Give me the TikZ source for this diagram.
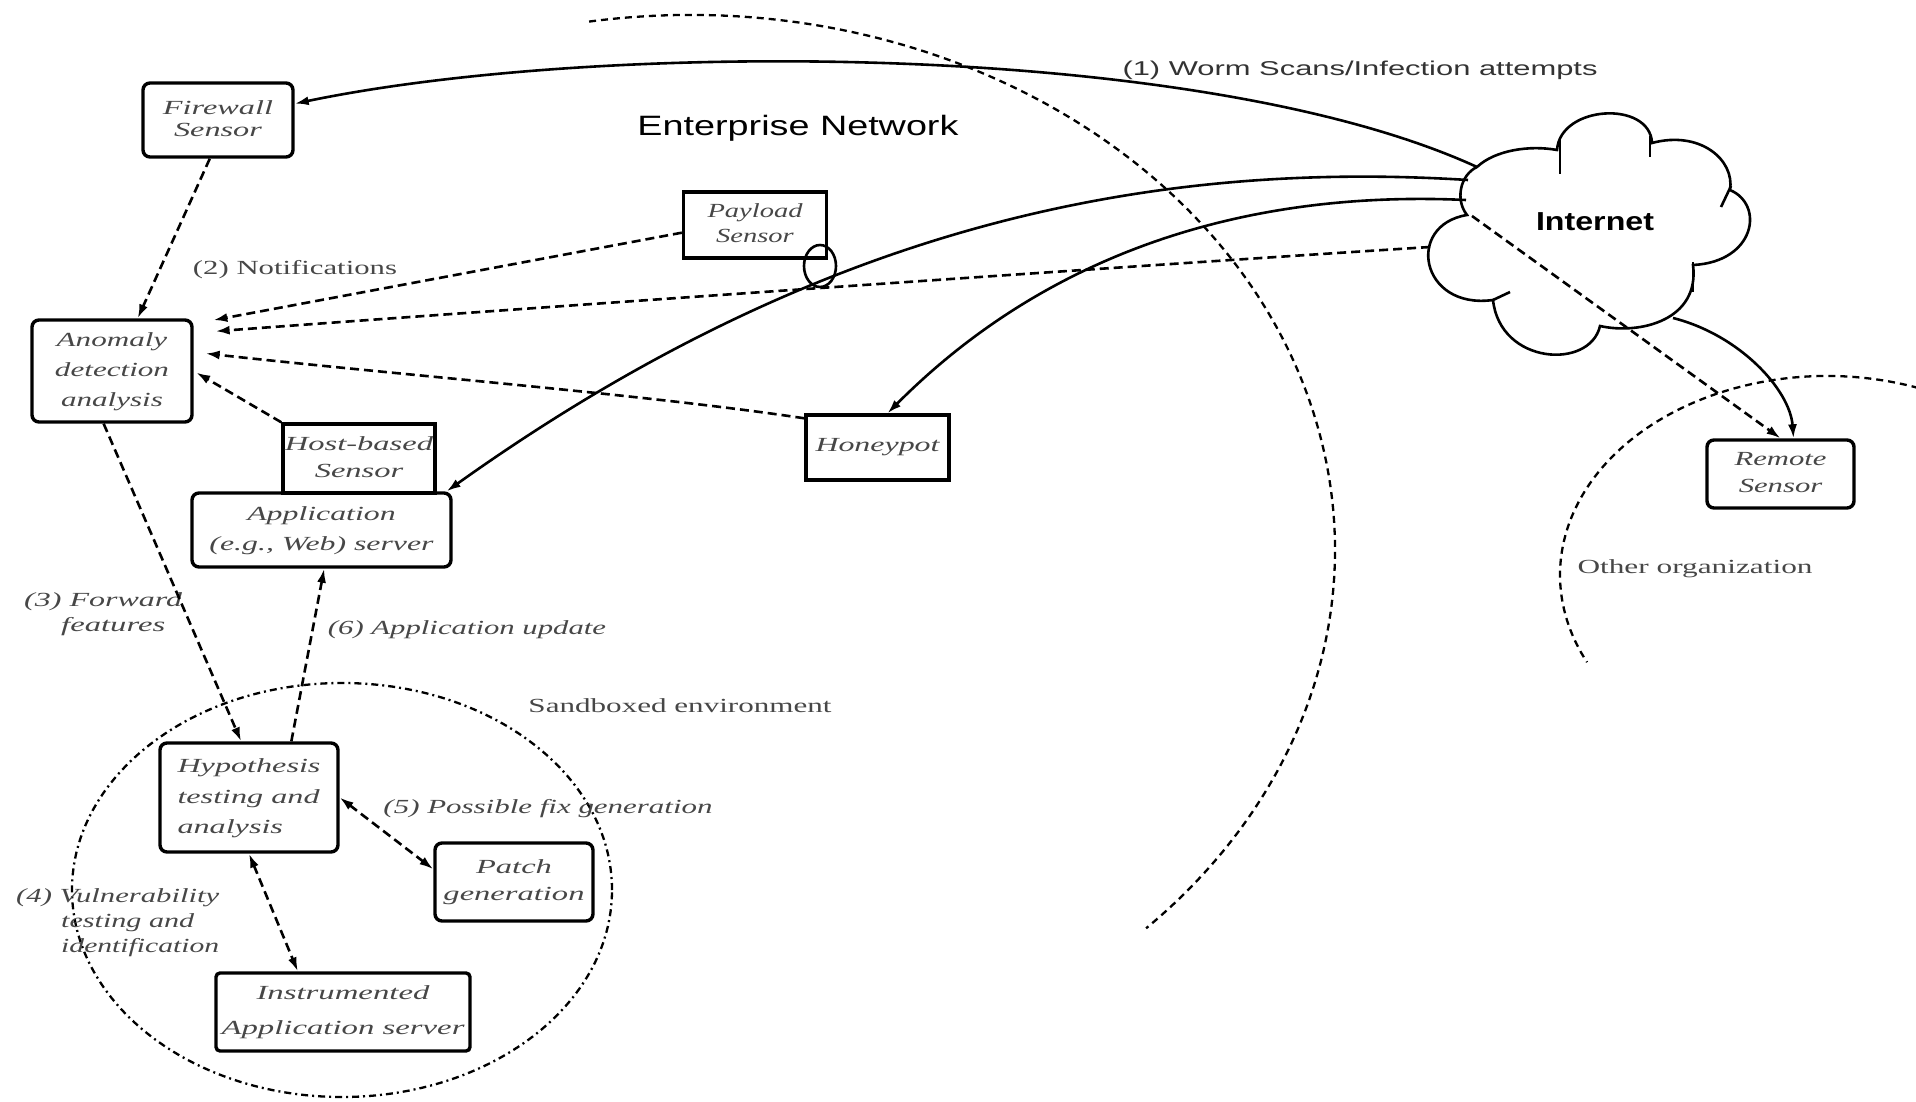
\documentclass[tikz,border=0pt]{standalone}
\usepackage{fontspec}
\setmainfont{Liberation Serif}
\setsansfont{Liberation Sans}
\usetikzlibrary{arrows.meta,calc}
% stretch a piece of text to a given width, keeping its height
\newcommand\fitw[2]{\resizebox{#1}{\height}{#2}}
\begin{document}
\begin{tikzpicture}[x=1pt,y=-1pt,
  box/.style={draw, line width=3.4pt, inner sep=0pt, align=center,
              font=\fontsize{20}{27}\selectfont\itshape, text=black!72},
  rbox/.style={box, rounded corners=7pt},
  lbl/.style={font=\fontsize{20}{25}\selectfont\itshape, text=black!72, inner sep=0pt},
  plainlbl/.style={font=\fontsize{20}{25}\selectfont, text=black!72, inner sep=0pt},
  tip/.tip={Latex[length=14pt,width=9pt]},
  link/.style={line width=2.6pt, -tip},
  dlink/.style={link, dash pattern=on 9pt off 5pt},
  bilink/.style={dlink, tip-tip},
  border/.style={line width=2.3pt, dash pattern=on 7pt off 5pt},
  sandbox/.style={line width=2.3pt, dash pattern=on 7pt off 4pt on 2pt off 4pt},
  cloudline/.style={line width=2.6pt},
]
\useasboundingbox (0,0) rectangle (1916,1102);
\fill[white] (0,0) rectangle (1916,1102);

% ---- region borders ----
\draw[border] ([shift={(-99:645 and 535)}]690,550)
  arc[start angle=-99, end angle=45, x radius=645, y radius=535];
\draw[border] ([shift={(-70:267 and 199)}]1827,575)
  arc[start angle=-70, end angle=-206, x radius=267, y radius=199];
\draw[sandbox] (342,890) ellipse [x radius=270pt, y radius=207pt];

% ---- Internet cloud ----
\draw[cloudline]
  (1477,167) .. controls (1495,150) and (1530,145) .. (1557,150)
  .. controls (1560,105) and (1650,100) .. (1652,143)
  .. controls (1700,130) and (1735,160) .. (1730,190)
  .. controls (1765,205) and (1755,262) .. (1693,265)
  .. controls (1700,320) and (1640,335) .. (1600,326)
  .. controls (1590,370) and (1500,365) .. (1493,300)
  .. controls (1420,310) and (1405,225) .. (1467,215)
  .. controls (1455,200) and (1460,175) .. (1477,167) -- cycle;
\draw[cloudline] (1560,138) -- (1560,174);
\draw[cloudline] (1650,136) -- (1650,157);
\draw[cloudline] (1731,186) -- (1721,207);
\draw[cloudline] (1693,262) -- (1693,292);
\draw[cloudline] (1493,300) -- (1510,292);
\node[font=\sffamily\bfseries\fontsize{26}{28}\selectfont, inner sep=0pt] (inet) at (1595,222) {\fitw{118pt}{Internet}};

\coordinate (c-fw)  at (1477,167);
\coordinate (c-app) at (1468,180);
\coordinate (c-hp)  at (1466,200);
\coordinate (c-an)  at (1430,247);
\coordinate (c-rs1) at (1472,216);
\coordinate (c-rs2) at (1673,318);

% ---- sensors and servers ----
\node[rbox, minimum width=150pt, minimum height=74pt] (fw) at (218,120)
  {\fitw{110pt}{\begin{tabular}{@{}c@{}}Firewall\\[-5pt]Sensor\end{tabular}}};
\node[rbox, minimum width=160pt, minimum height=102pt] (an) at (112,371)
  {\fitw{114pt}{\begin{tabular}{@{}c@{}}Anomaly\\[3pt]detection\\[3pt]analysis\end{tabular}}};
\node[box, minimum width=143pt, minimum height=66pt] (pl) at (755,225)
  {\fitw{95pt}{\begin{tabular}{@{}c@{}}Payload\\[-2pt]Sensor\end{tabular}}};
\node[box, minimum width=152pt, minimum height=69pt] (hb) at (359,458.5)
  {\fitw{148pt}{\begin{tabular}{@{}c@{}}Host-based\\Sensor\end{tabular}}};
\node[rbox, minimum width=259pt, minimum height=74pt] (app) at (321.5,530)
  {\fitw{224pt}{\begin{tabular}{@{}c@{}}Application\\[3pt](e.g., Web) server\end{tabular}}};
\node[box, minimum width=143pt, minimum height=65pt] (hp) at (877.5,447.5)
  {\fitw{124pt}{Honeypot}};
\node[rbox, minimum width=147pt, minimum height=68pt] (rs) at (1780.5,474)
  {\fitw{92pt}{\begin{tabular}{@{}c@{}}Remote\\Sensor\end{tabular}}};
\node[rbox, minimum width=178pt, minimum height=109pt] (hy) at (249,797.5)
  {\fitw{143pt}{\begin{tabular}{@{}l@{}}Hypothesis\\[4pt]testing and\\[3pt]analysis\end{tabular}}};
\node[rbox, minimum width=158pt, minimum height=78pt] (pg) at (514,882)
  {\fitw{141pt}{\begin{tabular}{@{}c@{}}Patch\\generation\end{tabular}}};
\node[rbox, rounded corners=4pt, minimum width=254pt, minimum height=78pt] (ia) at (343,1012)
  {\fitw{243pt}{\begin{tabular}{@{}c@{}}Instrumented\\[8pt]Application server\end{tabular}}};

% tap point of the payload sensor
\draw[cloudline] (820,266) ellipse [x radius=16pt, y radius=21pt];

% ---- labels ----
\node[font=\sffamily\fontsize{28}{30}\selectfont, inner sep=0pt] (title) at (798,128)
  {\fitw{321pt}{Enterprise Network}};
\node[font=\sffamily\fontsize{20}{22}\selectfont, text=black!80, inner sep=0pt] (l1) at (1360,70)
  {\fitw{475pt}{(1) Worm Scans/Infection attempts}};
\node[plainlbl] (l2) at (295,270) {\fitw{204pt}{(2) Notifications}};
\node[lbl, anchor=west] (l3) at (24,614)
  {\begin{tabular}{@{}l@{}}\fitw{158pt}{(3) Forward}\\\hspace*{37pt}\fitw{104pt}{features}\end{tabular}};
\node[lbl, anchor=west] (l4) at (16,922)
  {\begin{tabular}{@{}l@{}}\fitw{203pt}{(4) Vulnerability}\\\hspace*{45pt}\fitw{133pt}{testing and}\\\hspace*{45pt}\fitw{158pt}{identification}\end{tabular}};
\node[lbl] (l5) at (548,809) {\fitw{329pt}{(5) Possible fix generation}};
\node[lbl] (l6) at (467,630) {\fitw{278pt}{(6) Application update}};
\node[plainlbl] (sbl) at (680,706) {\fitw{303pt}{Sandboxed environment}};
\node[plainlbl] (org) at (1695,569) {\fitw{235pt}{Other organization}};

% ---- connectors ----
\draw[link] (c-fw) .. controls (1200,40) and (600,40) .. (fw.12);
\draw[link] (c-app) .. controls (1150,160) and (820,225) .. ([xshift=-6pt]app.north east);
\draw[link] (c-hp) .. controls (1250,190) and (1050,250) .. ([xshift=10pt]hp.north);
\draw[dlink, shorten >=22pt] (c-an) .. controls (1100,268) and (500,310) .. (an.25);
\draw[dlink, shorten >=20pt] (pl.186) -- (an.30);
\draw[dlink, shorten >=12pt] ([yshift=-5pt]hp.north west) .. controls (650,395) and (400,375) .. (an.13);
\draw[dlink, shorten >=3pt] (hb.north west) -- (an.east);
\draw[dlink] (fw.-102) -- (an.64);
\draw[dlink] (an.-99) -- (hy.98);
\draw[dlink] (hy.53) -- (app.-86);
\draw[bilink] (hy.east) -- (pg.171);
\draw[bilink] (hy.south) -- (ia.138);
\draw[dlink] (c-rs1) -- (rs.north);
\draw[link] (c-rs2) .. controls (1740,335) and (1790,390) .. (rs.70);
\end{tikzpicture}
\end{document}
